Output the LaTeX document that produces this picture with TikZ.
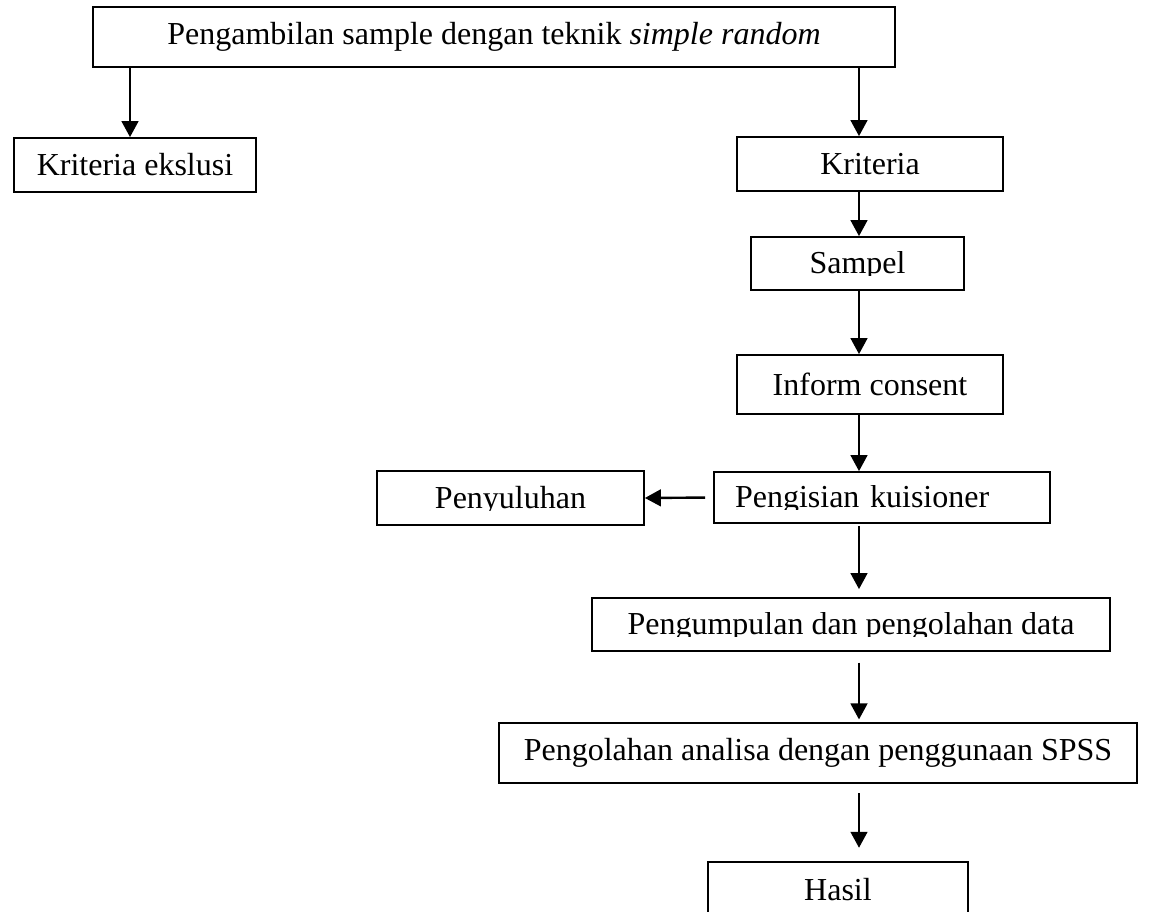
\documentclass[tikz,border=0pt]{standalone}
\usepackage{fontspec}
\setmainfont{Liberation Serif}
\usepackage{trimclip}
\usetikzlibrary{arrows.meta,calc}
% cut the descenders, as the boxes of the original do
\newcommand{\cutdesc}[1]{\clipbox{0pt 3.6pt 0pt 0pt}{#1}}

\begin{document}
\begin{tikzpicture}[x=0.75pt,y=-0.75pt,
    box/.style={draw,line width=1.3pt,inner sep=0pt,font=\fontsize{24}{28}\selectfont},
    arr/.style={-{Triangle[length=12pt,width=12.5pt]},line width=1.8pt}]
    \useasboundingbox (0,0) rectangle (1149,912);
    % spines of the arrows
    \coordinate (lspine) at (130,0);
    \coordinate (spine) at (859,0);
    % boxes
    \node[box,minimum width=601.5pt,minimum height=45pt] (ambil) at (494,37)
        {Pengambilan sample dengan teknik \textit{simple random}};
    \node[box,minimum width=181.5pt,minimum height=40.5pt] (eksklusi) at (135,165) {Kriteria ekslusi};
    \node[box,minimum width=199.5pt,minimum height=40.5pt] (kriteria) at (870,164) {Kriteria};
    \node[box,minimum width=159.75pt,minimum height=39.75pt] (sampel) at (857.5,263.5) {\cutdesc{Sampel}};
    \node[box,minimum width=199.5pt,minimum height=44.25pt] (consent) at (870,384.5) {Inform consent};
    \node[box,minimum width=200.25pt,minimum height=40.5pt] (suluh) at (510.5,498) {\cutdesc{Penyuluhan}};
    \node[box,minimum height=38.25pt,inner xsep=15.75pt,text width=220.5pt,align=left] (isi) at (882,497.5)
        {\cutdesc{Pengisian kuisioner}};
    \node[box,minimum width=388.5pt,minimum height=39.75pt] (kumpul) at (851,624.5)
        {\cutdesc{Pengumpulan dan pengolahan data}};
    \node[box,minimum width=478.5pt,minimum height=45pt] (analisa) at (818,753)
        {Pengolahan analisa dengan penggunaan SPSS};
    \node[box,minimum width=195pt,minimum height=42pt] (hasil) at (838,890) {Hasil};
    % arrows
    \draw[arr] (ambil.south -| lspine) -- (eksklusi.north -| lspine);
    \draw[arr] (ambil.south -| spine) -- (kriteria.north -| spine);
    \draw[arr] (kriteria.south -| spine) -- (sampel.north -| spine);
    \draw[arr] (sampel.south -| spine) -- (consent.north -| spine);
    \draw[arr] (consent.south -| spine) -- (isi.north -| spine);
    \draw[arr,shorten <=6pt] (isi.west) -- (suluh.east);
    \draw[arr,shorten <=1.5pt,shorten >=6pt] (isi.south -| spine) -- (kumpul.north -| spine);
    \draw[arr,shorten <=8pt,shorten >=2pt] (kumpul.south -| spine) -- (analisa.north -| spine);
    \draw[arr,shorten <=7pt,shorten >=10pt] (analisa.south -| spine) -- (hasil.north -| spine);
\end{tikzpicture}
\end{document}
